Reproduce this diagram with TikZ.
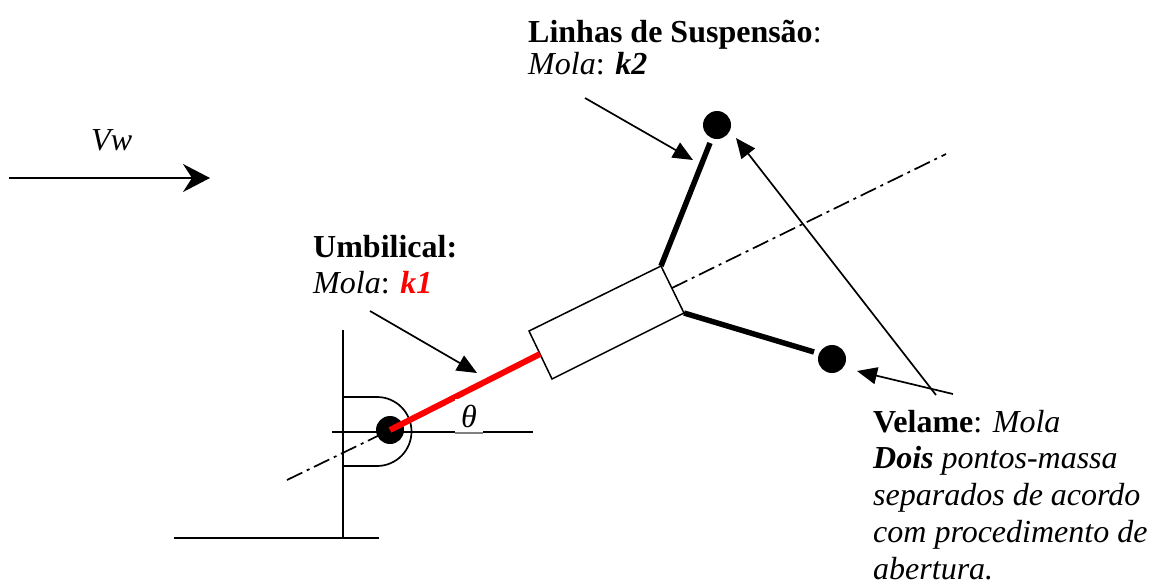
\documentclass[tikz,border=0pt]{standalone}
\usepackage{fontspec}
\setmainfont{Liberation Serif}
\usetikzlibrary{arrows.meta}
\tikzset{
  mass/.style={circle, fill=black, inner sep=0pt, minimum size=28pt},
  thin line/.style={line width=1.7pt},
  pointer/.style={line width=1.7pt, -{Triangle[length=20pt, width=17pt]}},
  wind/.style={line width=1.7pt, -{Stealth[length=27pt, width=28pt, inset=9pt]}},
  strut/.style={line width=5.5pt},
  axis line/.style={line width=1.7pt, dash pattern=on 17pt off 5pt on 3pt off 5pt},
  label/.style={anchor=base west, inner sep=0pt, font=\fontsize{32}{36}\selectfont},
}
\definecolor{umbred}{RGB}{255,0,0}
\begin{document}
\begin{tikzpicture}[x=1pt, y=-1pt]
  \useasboundingbox (0, 0) rectangle (1160, 584);
  % Wind arrow
  \coordinate (wstart) at (9, 178);
  \coordinate (wend) at (210, 178);
  \draw[wind] (wstart) -- (wend);
  \node[label] (vw) at (91, 150) {\textit{Vw}};
  % Axis line
  \coordinate (axisa) at (287, 480);
  \coordinate (axisb) at (946, 154);
  \coordinate (axisc) at (672, 288);
  % Support
  \coordinate (post) at (343, 330);
  \coordinate (foot) at (343, 538);
  \coordinate (basel) at (174, 538);
  \coordinate (baser) at (379, 538);
  \coordinate (horl) at (332, 432);
  \coordinate (horr) at (533, 432);
  \draw[thin line] (post) -- (foot);
  \draw[thin line] (basel) -- (baser);
  \draw[thin line] (horl) -- (horr);
  \draw[thin line] (343, 397) -- (377, 397) arc[start angle=-90, end angle=90, radius=34.5] -- (343, 466);
  % Masses
  \node[mass] (pivot) at (390, 430) {};
  \node[mass] (upper) at (717, 125) {};
  \node[mass] (lower) at (832, 359) {};
  \draw[axis line] (axisa) -- (pivot.center);
  \draw[axis line] (axisc) -- (axisb);
  % Canopy box
  \coordinate (boxa) at (529, 331);
  \coordinate (boxb) at (552, 379);
  \coordinate (boxc) at (684, 313);
  \coordinate (boxd) at (661, 266);
  \draw[line width=1.5pt] (boxa) -- (boxb) -- (boxc) -- (boxd) -- cycle;
  % Lines and umbilical
  \coordinate (upperend) at (710, 143);
  \coordinate (lowerend) at (814, 352);
  \coordinate (umbend) at (540, 354);
  \draw[strut] (boxd) -- (upperend);
  \draw[strut] (boxc) -- (lowerend);
  \draw[line width=6pt, umbred] (pivot.center) -- (umbend);
  % Angle
  \node[fill=white, inner sep=0pt, minimum width=28pt, minimum height=34pt, font=\fontsize{32}{36}\selectfont] (theta) at (469, 416) {\textit{θ}};
  \draw[line width=1.5pt, black!50] (theta.south west) -- (theta.south east);
  % Labels
  \node[label] (susp) at (528, 42) {\textbf{Linhas de Suspensão}:};
  \node[label] (molatwo) at (528, 74) {\textit{Mola}: \textbf{\textit{k2}}};
  \node[label] (umb) at (313, 257) {\textbf{Umbilical:}};
  \node[label] (molaone) at (313, 293) {\textit{Mola}: \textcolor{umbred}{\textbf{\textit{k1}}}};
  \node[label] (velame) at (873, 432) {\textbf{Velame}: \textit{Mola}};
  \node[label] (dois) at (873, 468) {\textbf{\textit{Dois}} \textit{pontos-massa}};
  \node[label] (sep) at (873, 505) {\textit{separados de acordo}};
  \node[label] (proc) at (873, 542) {\textit{com procedimento de}};
  \node[label] (aber) at (873, 579) {\textit{abertura.}};
  % Pointers
  \coordinate (umbfrom) at (370, 311);
  \coordinate (umbto) at (477, 373);
  \coordinate (suspfrom) at (585, 98);
  \coordinate (suspto) at (693, 160);
  \coordinate (velfroma) at (936, 395);
  \coordinate (velto) at (736, 138);
  \coordinate (velfromb) at (953, 394);
  \coordinate (veltob) at (857, 371);
  \draw[pointer] (umbfrom) -- (umbto);
  \draw[pointer] (suspfrom) -- (suspto);
  \draw[pointer] (velfroma) -- (velto);
  \draw[pointer] (velfromb) -- (veltob);
\end{tikzpicture}
\end{document}
